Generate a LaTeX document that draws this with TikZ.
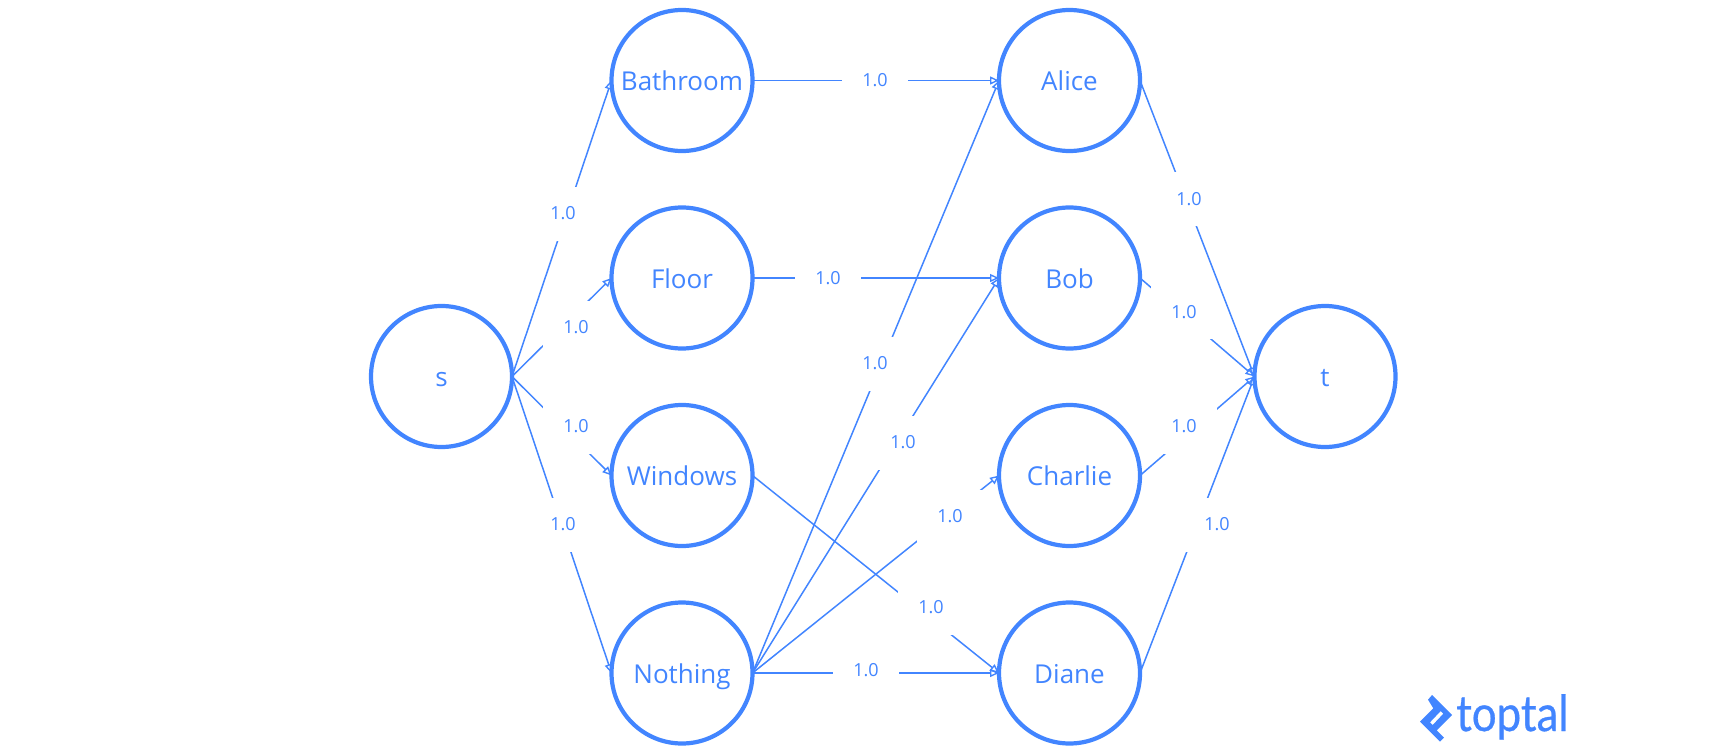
\documentclass[tikz,border=0pt]{standalone}
\usepackage{fontspec}
\setmainfont{Open Sans}
\newfontfamily\logofont[FakeBold=0.6]{Lato}
\usetikzlibrary{arrows.meta}
\definecolor{tp}{HTML}{4285FF}
\tikzset{
  vtx/.style={circle,draw=tp,line width=4.2pt,minimum size=141pt,inner sep=0pt,outer sep=0pt,text=tp,text height=20pt,text depth=0pt,font=\fontsize{26}{30}\selectfont},
  edg/.style={draw=tp,line width=1.5pt,-{Triangle[open,length=9pt,width=8pt,line width=1.4pt]}},
  lbl/.style={fill=white,text=tp,minimum width=66pt,minimum height=54pt,inner sep=0pt,font=\fontsize{18}{22}\selectfont},
}
\begin{document}
\begin{tikzpicture}[x=1pt,y=-1pt]
\useasboundingbox (0,0) rectangle (1720,752);
\begin{scope}[shift={(0,0.5)}]
\coordinate (ps) at (441.5,376);
\coordinate (pt) at (1325,376);
\node[vtx] (s) at (ps) {s};
\node[vtx] (bath) at (682,80) {Bathroom};
\node[vtx] (floor) at (682,277.5) {Floor};
\node[vtx] (win) at (682,475) {Windows};
\node[vtx] (noth) at (682,672.5) {Nothing};
\node[vtx] (alice) at (1069.5,80) {Alice};
\node[vtx] (bob) at (1069.5,277.5) {Bob};
\node[vtx] (charlie) at (1069.5,475) {Charlie};
\node[vtx] (diane) at (1069.5,672.5) {Diane};
\node[vtx] (t) at (pt) {t};
\foreach \a/\b in {s/bath,s/floor,s/win,s/noth,bath/alice,floor/bob,win/diane,noth/alice,noth/bob,noth/charlie,noth/diane,alice/t,bob/t,charlie/t,diane/t}
  \draw[edg] (\a.east) -- (\b.west);
\node[lbl] (l1) at (563,213) {1.0};
\node[lbl] (l2) at (576,327) {1.0};
\node[lbl] (l3) at (576,426) {1.0};
\node[lbl] (l4) at (563,524) {1.0};
\node[lbl] (l5) at (875,80) {1.0};
\node[lbl] (l6) at (828,277.5) {1.0};
\node[lbl] (l7) at (931,607) {1.0};
\node[lbl] (l8) at (875,363) {1.0};
\node[lbl] (l9) at (903,442) {1.0};
\node[lbl] (l10) at (950,516) {1.0};
\node[lbl] (l11) at (866,670) {1.0};
\node[lbl] (l12) at (1189,198.5) {1.0};
\node[lbl] (l13) at (1184,311.5) {1.0};
\node[lbl] (l14) at (1184,426) {1.0};
\node[lbl] (l15) at (1217,524) {1.0};
\end{scope}
% logo
\fill[tp,even odd rule] (1432,695) -- (1452,715) -- (1436.7,730.3) -- (1444,737.7) -- (1440,741.7) -- (1420,721.7) -- (1433.3,708.3) -- (1428,699.7) -- cycle
  (1430,722.3) -- (1432.7,725) -- (1443.3,713.7) -- (1440.7,711) -- cycle;
\node[text=tp,anchor=base west,inner sep=0pt,font=\fontsize{50}{50}\selectfont\logofont] (logo) at (1456,731) {\scalebox{.875}[1]{toptal}};
\end{tikzpicture}
\end{document}
